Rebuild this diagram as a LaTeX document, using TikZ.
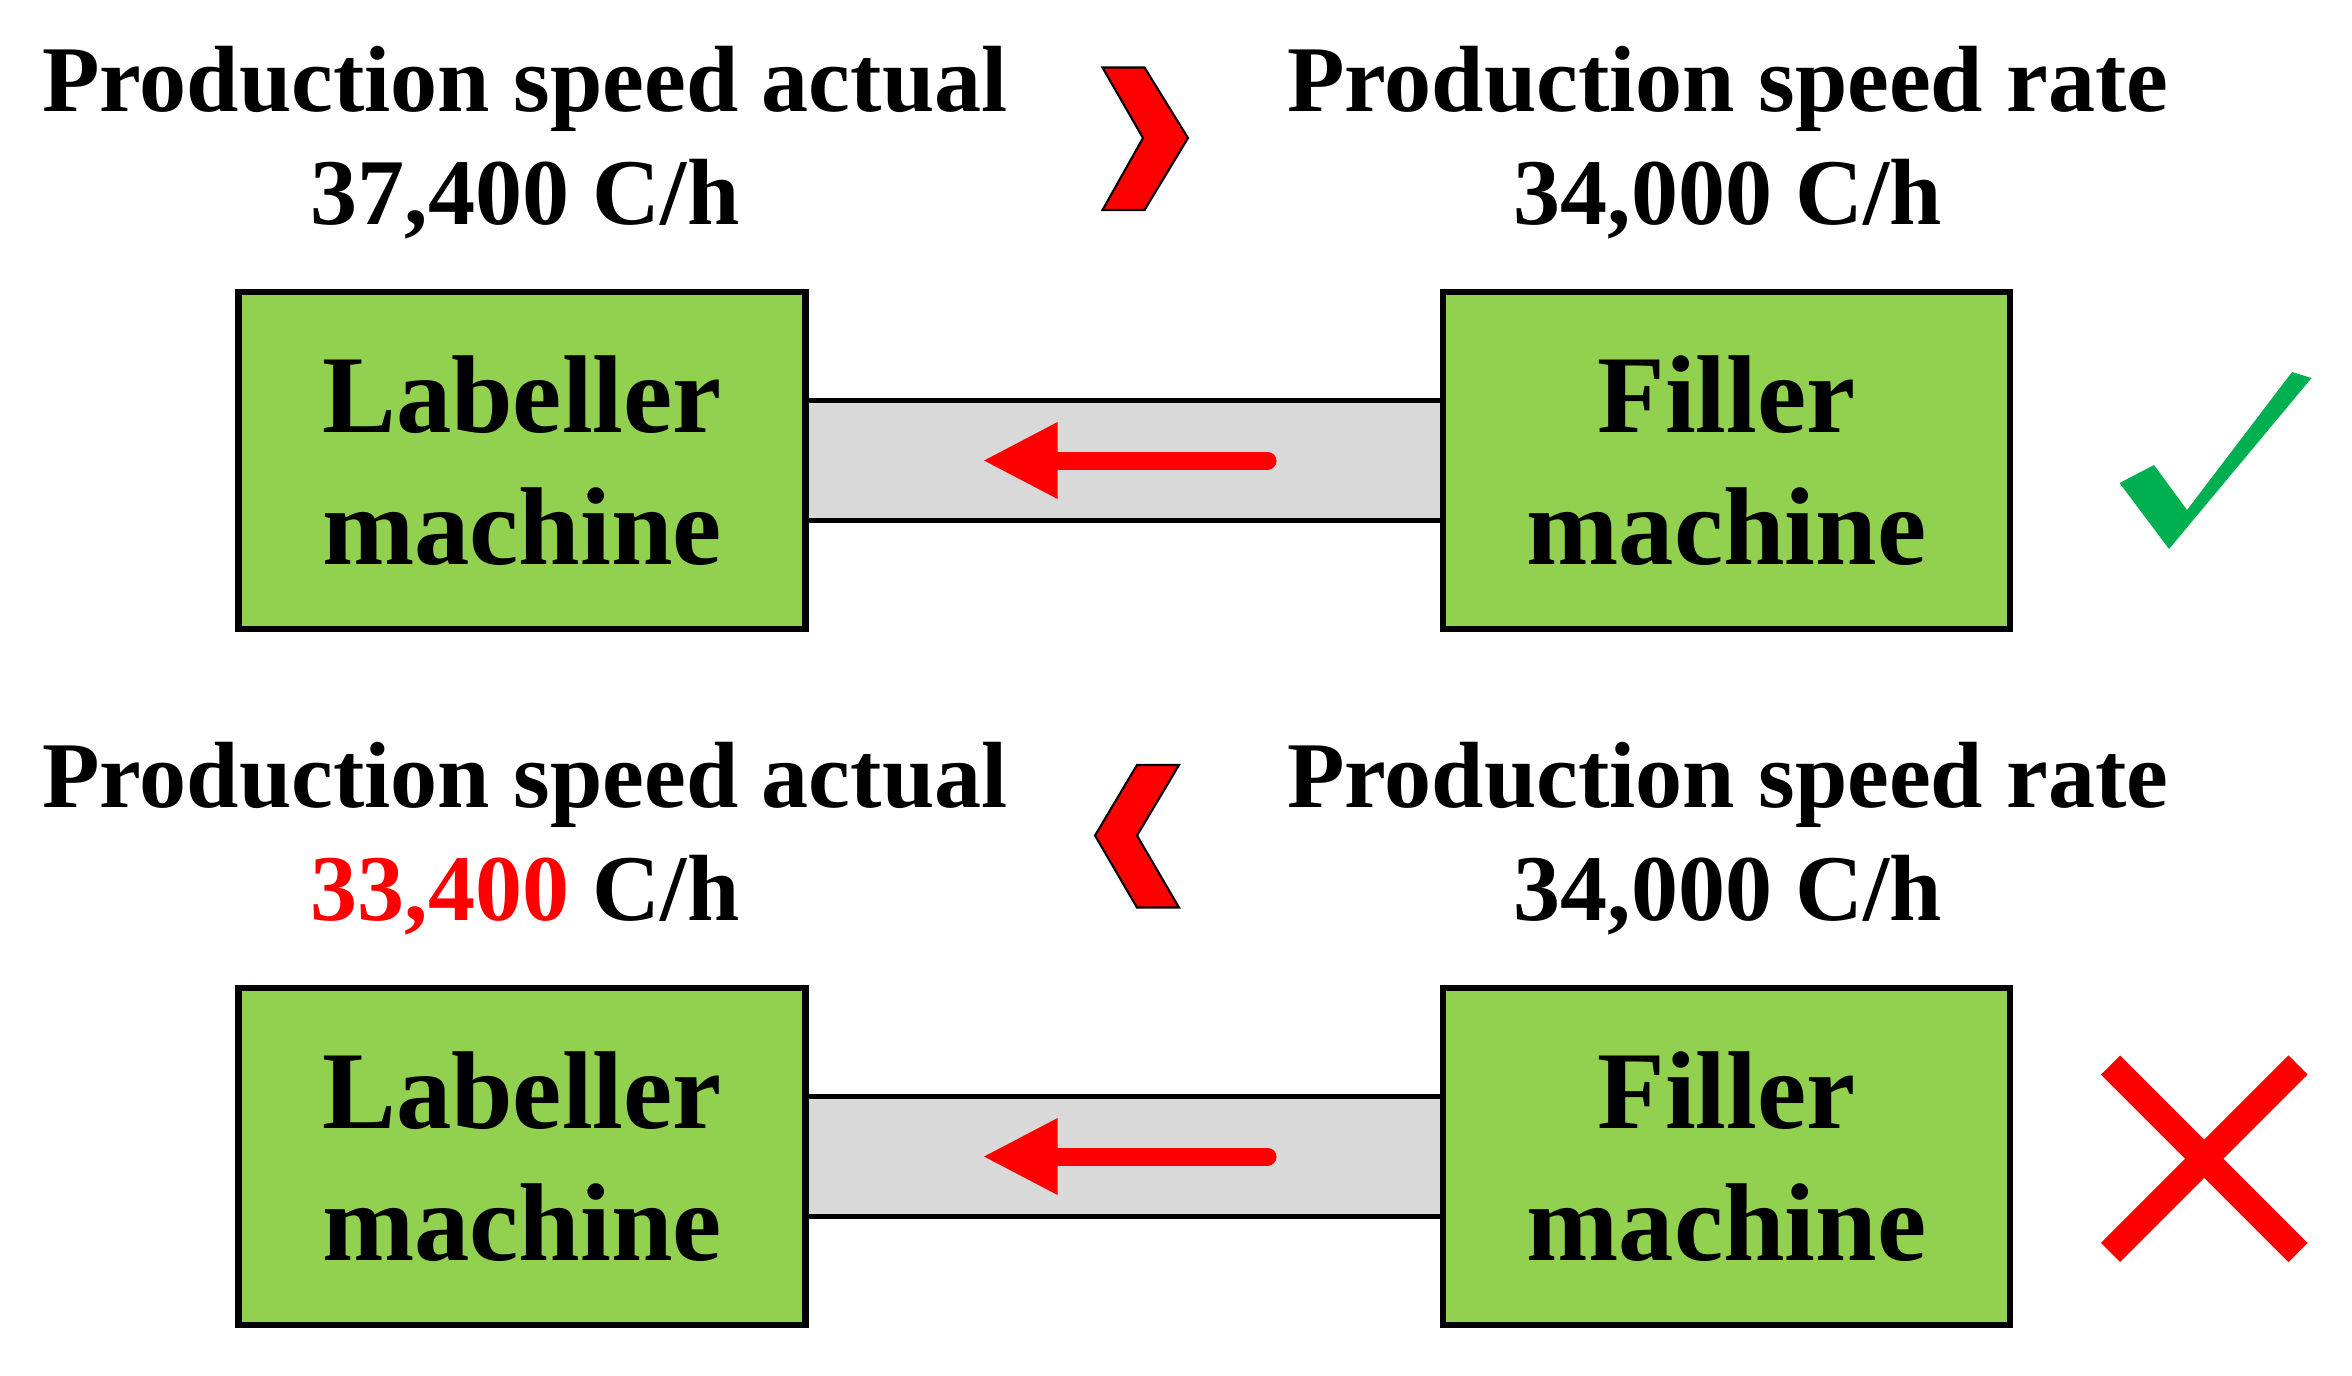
\documentclass[tikz,border=0pt]{standalone}
\usepackage{fontspec}
\setmainfont{Liberation Serif}
\usetikzlibrary{arrows.meta}
\definecolor{boxgreen}{HTML}{92D050}
\definecolor{belt}{HTML}{D9D9D9}
\definecolor{okgreen}{HTML}{00B050}
\begin{document}
\begin{tikzpicture}[x=0.02cm,y=-0.02cm,
  lbl/.style={font=\fontsize{35.7}{43}\selectfont\bfseries,align=center},
  mach/.style={draw,line width=2.4pt,fill=boxgreen,minimum width=7.56cm,minimum height=4.5cm,font=\fontsize{42}{50}\selectfont\bfseries,align=center},
  beltbox/.style={draw,line width=1.6pt,fill=belt},
  flow/.style={red,line width=0.24cm,line cap=round,-{Triangle[length=1cm,width=0.95cm]}},
  chev/.style={fill=red,draw=black,line width=0.8pt}]
\useasboundingbox (0,0) rectangle (1568,917);
% top row
\node[lbl] (ta) at (350,95) {Production speed actual\\37,400 C/h};
\node[lbl] (tr) at (1152,95) {Production speed rate\\34,000 C/h};
\draw[chev] (735,45)--(763,45)--(792,92)--(763,140)--(735,140)--(762,92)--cycle;
\draw[beltbox] (537,267) rectangle (962,347);
\node[mach] (l1) at (348,307) {Labeller\\machine};
\node[mach] (f1) at (1151,307) {Filler\\machine};
\coordinate (a1s) at (845,307); \coordinate (a1e) at (655,307);
\draw[flow] (a1s) -- (a1e);
\fill[okgreen] (1413,322)--(1436,310)--(1458,340)--(1528,248)--(1541,252)--(1446,366)--cycle;
% bottom row
\node[lbl] (ba) at (350,559) {Production speed actual\\\textcolor{red}{33,400} C/h};
\node[lbl] (br) at (1152,559) {Production speed rate\\34,000 C/h};
\draw[chev] (758,510)--(786,510)--(758,557)--(786,605)--(758,605)--(730,557)--cycle;
\draw[beltbox] (537,731) rectangle (962,811);
\node[mach] (l2) at (348,771) {Labeller\\machine};
\node[mach] (f2) at (1151,771) {Filler\\machine};
\coordinate (a2s) at (845,771); \coordinate (a2e) at (655,771);
\draw[flow] (a2s) -- (a2e);
\coordinate (x1) at (1407,710); \coordinate (x2) at (1532,835);
\coordinate (x3) at (1532,710); \coordinate (x4) at (1407,835);
\draw[red,line width=0.36cm] (x1)--(x2) (x3)--(x4);
\end{tikzpicture}
\end{document}
